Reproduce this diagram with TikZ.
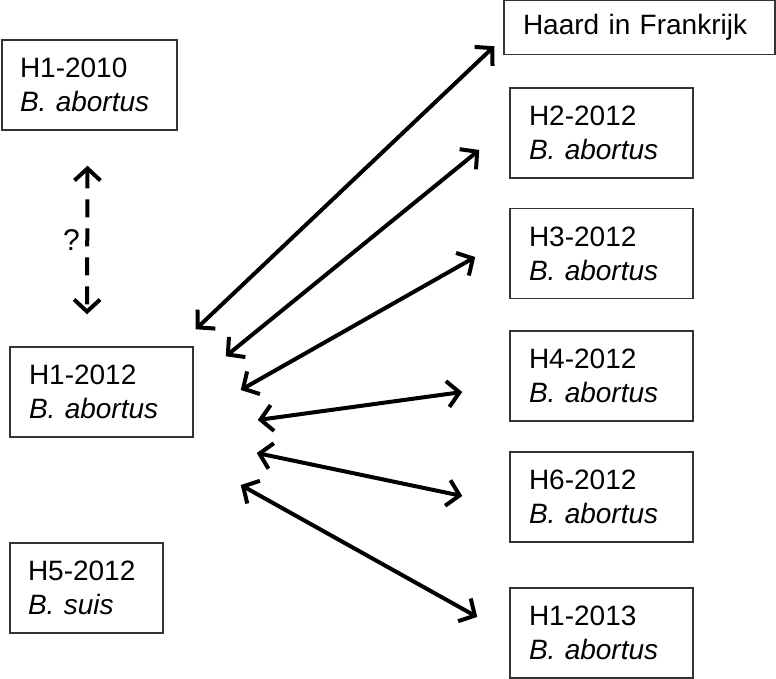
\documentclass[tikz,border=0pt]{standalone}
\usepackage{fontspec}
\setmainfont{Liberation Sans}
\usetikzlibrary{arrows.meta}

\begin{document}
\begin{tikzpicture}[x=1pt,y=-1pt]

\tikzset{box/.style = {draw=black!80, line width=1.5pt, inner sep=0pt, align=left,
  font=\fontsize{28}{34}\selectfont, minimum height=90pt}}
\tikzset{link/.style = {{Straight Barb[length=12pt,width=26pt]}-{Straight Barb[length=12pt,width=26pt]}, line width=4pt}}
\useasboundingbox (0,0) rectangle (776,679);
%farms
\node[box, minimum width=175pt, text width=139pt] (h10) at (89.5,85) {H1-2010\\\textit{B. abortus}};
\node[box, minimum width=183pt, text width=145pt] (h12) at (101.5,392) {H1-2012\\\textit{B. abortus}};
\node[box, minimum width=153pt, text width=117pt] (h5) at (86.5,588) {H5-2012\\\textit{B. suis}};
\node[box, minimum width=271pt, minimum height=54pt, text width=233pt] (fr) at (639.5,27.5) {Haard in Frankrijk};
\node[box, minimum width=183pt, text width=145pt] (h2) at (601.5,133) {H2-2012\\\textit{B. abortus}};
\node[box, minimum width=183pt, text width=145pt] (h3) at (601.5,253.5) {H3-2012\\\textit{B. abortus}};
\node[box, minimum width=183pt, text width=145pt] (h4) at (601.5,376) {H4-2012\\\textit{B. abortus}};
\node[box, minimum width=183pt, text width=145pt] (h6) at (601.5,497) {H6-2012\\\textit{B. abortus}};
\node[box, minimum width=183pt, text width=145pt] (h13) at (601.5,633) {H1-2013\\\textit{B. abortus}};
%links
\draw[link, dash pattern=on 18pt off 11pt] ([shift={(-2,35)}]h10.south) -- ([shift={(-14.5,-32)}]h12.north)
  node[midway, left=2pt, font=\fontsize{30}{34}\selectfont] {?};
\draw[link] ([shift={(2,-17)}]h12.north east) -- ([shift={(-9,-9)}]fr.south west);
\draw[link] ([shift={(32,10)}]h12.north east) -- ([shift={(-30,17)}]h2.west);
\draw[link] ([shift={(47,-2)}]h12.east) -- ([shift={(-34,3.5)}]h3.west);
\draw[link] ([shift={(64,28)}]h12.east) -- ([shift={(-47,16)}]h4.west);
\draw[link] ([shift={(63,61)}]h12.east) -- ([shift={(-47,-1)}]h6.west);
\draw[link] ([shift={(47,93)}]h12.east) -- ([shift={(-32,-16)}]h13.west);

\end{tikzpicture}
\end{document}
